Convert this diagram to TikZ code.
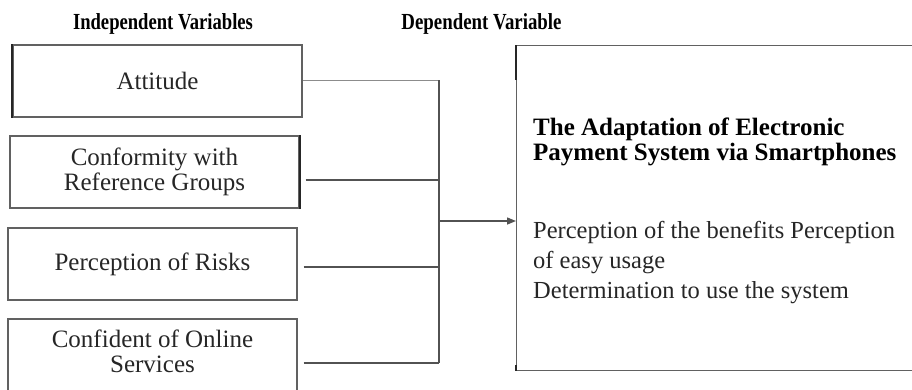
\documentclass[tikz,border=0pt]{standalone}
\usepackage{fontspec}
\setmainfont{Liberation Serif}
\usepackage{graphicx}
\usetikzlibrary{arrows.meta}
\begin{document}
\begin{tikzpicture}[x=1pt,y=-1pt,
  ivbox/.style={draw=black!62, line width=1.3pt, minimum width=289pt,
    minimum height=72pt, inner sep=0pt, align=center, text=black!85,
    font=\fontsize{25}{25}\selectfont},
  depbox/.style={draw=black!62, line width=1.3pt, minimum width=500pt,
    minimum height=325pt, inner sep=0pt},
  heading/.style={font=\fontsize{23}{24}\selectfont\bfseries, text=black, inner sep=0pt, anchor=base},
  link/.style={draw=black!68, line width=1.4pt},
  darkedge/.style={draw=black!85, line width=1.8pt},
]
\useasboundingbox (0,0) rectangle (912,389);
\clip (0,0) rectangle (912,389);

% column headings
\node[heading] (ivtitle) at (163,29) {\scalebox{0.81}[1]{Independent Variables}};
\node[heading] (dvtitle) at (481.5,29) {\scalebox{0.82}[1]{Dependent Variable}};

% independent variables
\node[ivbox] (att)  at (157.5,81)  {Attitude};
\node[ivbox] (conf) at (154.5,172) {Conformity with\\Reference Groups};
\node[ivbox] (risk) at (152.5,264) {Perception of Risks};
\node[ivbox, text depth=8pt] (conf2) at (152.5,355) {Confident of Online\\Services};

% dependent variable
\node[depbox, anchor=north west] (dep) at (516,45) {};
\node[anchor=base west, inner sep=0pt, align=left, text=black,
      font=\fontsize{25}{25}\selectfont\bfseries] (deptitle) at (533,160)
  {The Adaptation of Electronic\\Payment System via Smartphones};
\node[anchor=base west, inner sep=0pt, align=left, text=black!85,
      font=\fontsize{24.5}{30}\selectfont] (depitems) at (533,298)
  {Perception of the benefits Perception\\of easy usage\\Determination to use the system};

% heavier box edges
\draw[darkedge] (att.north west) -- (att.south west);
\draw[darkedge] (conf.north east) -- (conf.south east);
\draw[darkedge] (dep.north west) -- ([yshift=-35pt]dep.north west);
\draw[darkedge] ([yshift=6pt]dep.south west) -- (dep.south west);

% collecting bus
\coordinate (busTop) at (439,80);
\coordinate (busBot) at (439,363);
\coordinate (busOut) at (439,221);

\draw[link, draw=black!45, line width=1pt] ([yshift=1pt]att.east) -- (busTop);
\draw[link] ([yshift=-8pt]conf.east) ++(6pt,0) -- ([yshift=-8pt]conf.east -| busTop);
\draw[link] ([yshift=-3pt]risk.east) ++(6pt,0) -- ([yshift=-3pt]risk.east -| busTop);
\draw[link] (busBot -| conf2.east) ++(6pt,0) -- (busBot);
\draw[link] (busTop) -- (busBot);
\draw[link, -{Triangle[length=9pt,width=7pt]}] (busOut) -- (busOut -| dep.west);
\end{tikzpicture}
\end{document}
